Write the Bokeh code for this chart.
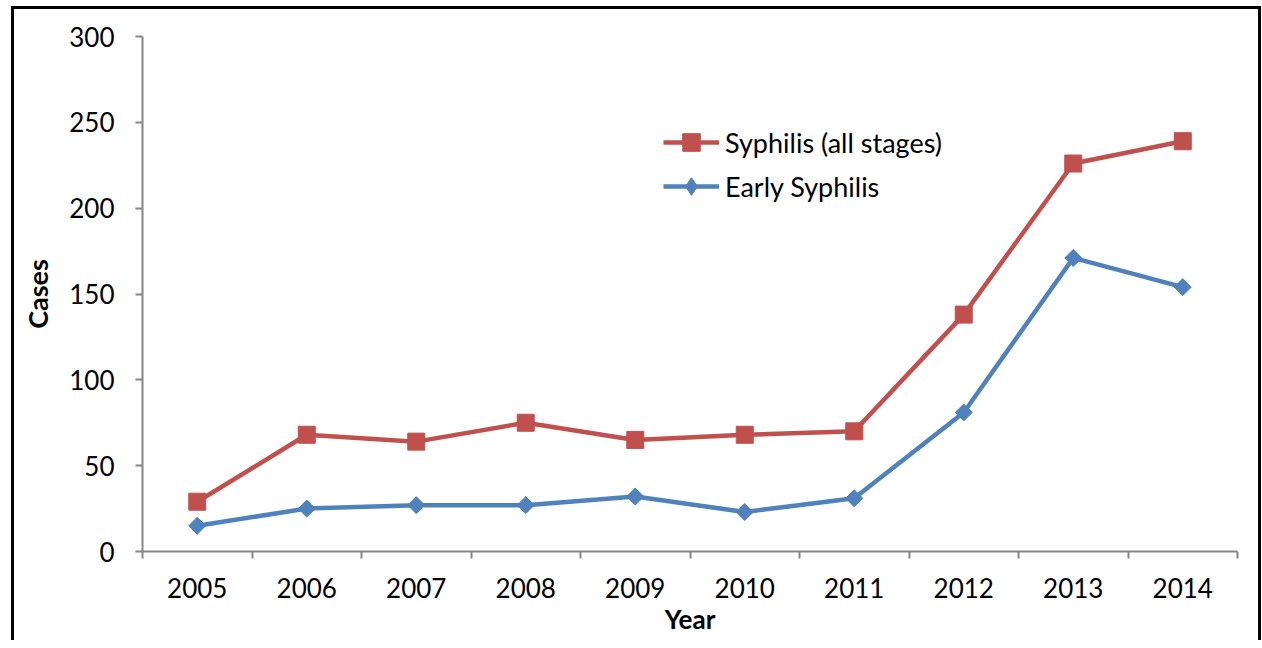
import numpy as np
from bokeh.plotting import figure
from bokeh.models import Range1d, FixedTicker, Legend, LegendItem, BasicTickFormatter
from bokeh.embed import file_html
from bokeh.resources import INLINE

years = [2005, 2006, 2007, 2008, 2009, 2010, 2011, 2012, 2013, 2014]
all_stages = [29, 68, 64, 75, 65, 68, 70, 138, 226, 239]
early = [15, 25, 27, 27, 32, 23, 31, 81, 171, 154]
y_ticks = [0, 50, 100, 150, 200, 250, 300]

RED = "#C0504D"
BLUE = "#4F81BD"
AXIS = "#868686"
FONT = "Lato"

p = figure(width=1250, height=634, output_backend="svg", toolbar_location=None,
           x_range=Range1d(years[0] - 0.5, years[-1] + 0.5), y_range=Range1d(0, 300),
           min_border_left=128, min_border_right=27, min_border_top=27, min_border_bottom=92)
p.styles = {"border-top": "3px solid black", "border-left": "3px solid black",
            "border-right": "3px solid black", "margin-left": "11px", "margin-top": "6px",
            "overflow": "hidden"}
p.outline_line_color = None
p.xgrid.grid_line_color = None
p.ygrid.grid_line_color = None
p.background_fill_color = "white"
p.border_fill_color = "white"

l1 = p.line(years, all_stages, line_color=RED, line_width=4.5)
s1 = p.scatter(years, all_stages, marker="square", size=17, fill_color=RED, line_color=RED)
l2 = p.line(years, early, line_color=BLUE, line_width=4.5)
s2 = p.scatter(years, early, marker="square", size=12, angle=np.pi / 4,
               fill_color=BLUE, line_color=BLUE)
# legend-only diamond key (legend glyphs are never rotated); NaN keeps it off the plot
s2_key = p.scatter([np.nan], [np.nan], marker="diamond", fill_color=BLUE, line_color=BLUE)

xa = p.xaxis[0]
xa.ticker = FixedTicker(ticks=years, minor_ticks=[y - 0.5 for y in years] + [years[-1] + 0.5])
xa.formatter = BasicTickFormatter(use_scientific=False)
xa.major_tick_line_color = None
xa.minor_tick_line_color = AXIS
xa.minor_tick_line_width = 2
xa.minor_tick_in = 0
xa.minor_tick_out = 7
xa.axis_line_color = AXIS
xa.axis_line_width = 2
xa.major_label_text_font = FONT
xa.major_label_text_font_size = "26px"
xa.major_label_text_color = "black"
xa.major_label_standoff = 19
xa.axis_label = "Year"
xa.axis_label_text_font = FONT
xa.axis_label_text_font_size = "26px"
xa.axis_label_text_font_style = "bold"
xa.axis_label_text_color = "black"
xa.axis_label_standoff = 2

ya = p.yaxis[0]
ya.ticker = FixedTicker(ticks=y_ticks, minor_ticks=[])
ya.major_tick_line_color = AXIS
ya.major_tick_line_width = 2
ya.major_tick_in = 0
ya.major_tick_out = 7
ya.minor_tick_line_color = None
ya.axis_line_color = AXIS
ya.axis_line_width = 2
ya.major_label_text_font = FONT
ya.major_label_text_font_size = "26px"
ya.major_label_text_color = "black"
ya.major_label_standoff = 21
ya.axis_label = "Cases"
ya.axis_label_text_font = FONT
ya.axis_label_text_font_size = "27px"
ya.axis_label_text_font_style = "bold"
ya.axis_label_text_color = "black"
ya.axis_label_standoff = 12

legend = Legend(items=[LegendItem(label="Syphilis (all stages)", renderers=[l1, s1]),
                       LegendItem(label="Early Syphilis", renderers=[l2, s2_key])],
                location=(521, 343), glyph_width=56, glyph_height=44, label_height=44,
                spacing=0, padding=0, margin=0, label_standoff=6,
                border_line_color=None, background_fill_alpha=0,
                label_text_font=FONT, label_text_font_size="27px", label_text_color="black")
p.add_layout(legend)

open("out.html", "w").write(file_html(p, INLINE))
